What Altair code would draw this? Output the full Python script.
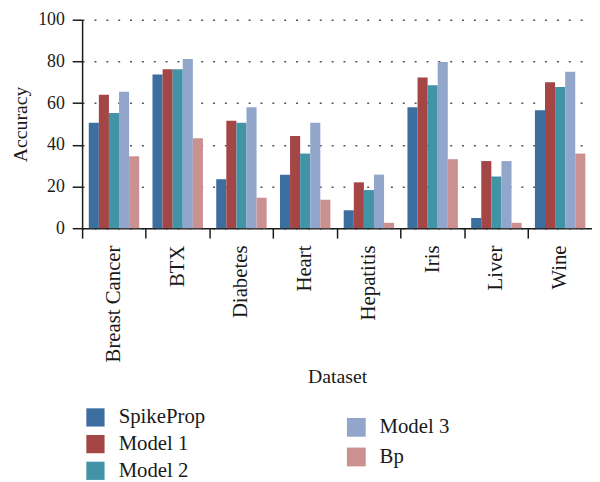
import altair as alt
import pandas as pd

datasets = ["Breast Cancer", "BTX", "Diabetes", "Heart", "Hepatitis", "Iris", "Liver", "Wine"]
series = ["SpikeProp", "Model 1", "Model 2", "Model 3", "Bp"]
spikeprop = [50.6, 73.7, 23.5, 25.7, 8.6, 58.0, 4.9, 56.6]
model1 = [64.0, 76.2, 51.5, 44.2, 22.0, 72.3, 32.2, 70.0]
model2 = [55.2, 76.2, 50.6, 35.8, 18.3, 68.6, 24.8, 67.7]
model3 = [65.4, 81.1, 58.0, 50.6, 25.7, 79.7, 32.2, 75.1]
bp = [34.5, 43.2, 14.6, 13.7, 2.6, 33.1, 2.6, 35.8]
colors = ["#3C6E9F", "#A34645", "#4393A7", "#92A6CB", "#CB9090"]

rows = []
for name, vals in zip(series, [spikeprop, model1, model2, model3, bp]):
    for d, v in zip(datasets, vals):
        rows.append({"Dataset": d, "Series": name, "Accuracy": v})
df = pd.DataFrame(rows)

FONT = "Liberation Serif"
INK = "#1a1a1a"

x_scale = alt.Scale(domain=datasets, paddingInner=0, paddingOuter=0)
xo_scale = alt.Scale(domain=series, paddingInner=0, paddingOuter=0.66)
y_scale = alt.Scale(domain=[0, 100])

y_axis = alt.Axis(
    values=[0, 20, 40, 60, 80, 100], grid=True, gridDash=[2, 10], gridColor="#555555",
    gridWidth=1.5, tickSize=10, tickColor=INK, tickWidth=1.5, domainColor=INK, domainWidth=1.5,
    labelFont=FONT, labelFontSize=18, labelColor=INK, labelPadding=8,
    titleFont=FONT, titleFontSize=20, titleFontWeight="normal", titleColor=INK, titlePadding=7,
)

label_axis = alt.Axis(
    orient="bottom", ticks=False, domain=False, labelAngle=-90, labelAlign="right",
    labelBaseline="middle", labelFont=FONT, labelFontSize=21, labelColor=INK, labelPadding=17,
    titleFont=FONT, titleFontSize=20, titleFontWeight="normal", titleColor=INK, titlePadding=5,
)
tick_axis = alt.Axis(
    orient="bottom", labels=False, title=None, ticks=True, bandPosition=0, tickSize=10,
    tickColor=INK, tickWidth=1.5, domain=True, domainColor=INK, domainWidth=1.5, grid=False,
)

legA = alt.Legend(
    title=None, orient="none", legendX=3, legendY=392, symbolType="square", symbolSize=340,
    symbolStrokeWidth=0, labelFont=FONT, labelFontSize=21, labelColor=INK, labelOffset=13,
    rowPadding=5,
)
legB = alt.Legend(
    title=None, orient="none", legendX=267, legendY=402, symbolType="square", symbolSize=361,
    symbolStrokeWidth=0, labelFont=FONT, labelFontSize=21, labelColor=INK, labelOffset=13,
    rowPadding=8,
)

base = alt.Chart(df)

layerA = base.transform_filter(
    alt.FieldOneOfPredicate(field="Series", oneOf=series[:3])
).mark_bar().encode(
    x=alt.X("Dataset:N", scale=x_scale, sort=datasets, axis=label_axis, title="Dataset"),
    xOffset=alt.XOffset("Series:N", scale=xo_scale),
    y=alt.Y("Accuracy:Q", scale=y_scale, axis=y_axis, title="Accuracy"),
    color=alt.Color("Series:N", scale=alt.Scale(domain=series[:3], range=colors[:3]), legend=legA),
)

layerB = base.transform_filter(
    alt.FieldOneOfPredicate(field="Series", oneOf=series[3:])
).mark_bar().encode(
    x=alt.X("Dataset:N", scale=x_scale, sort=datasets, axis=tick_axis),
    xOffset=alt.XOffset("Series:N", scale=xo_scale),
    y=alt.Y("Accuracy:Q", scale=y_scale, axis=y_axis, title="Accuracy"),
    color=alt.Color("Series:N", scale=alt.Scale(domain=series[3:], range=colors[3:]), legend=legB),
)

chart = alt.layer(layerA, layerB).resolve_scale(
    color="independent"
).resolve_axis(
    x="independent"
).resolve_legend(
    color="independent"
).properties(
    width=516, height=211,
    autosize=alt.AutoSizeParams(type="none"),
    padding={"left": 75, "top": 9, "right": 0, "bottom": 256},
).configure(
    background="white", font=FONT
).configure_view(
    stroke=None
).configure_axis(
    labelFont=FONT, titleFont=FONT
).configure_legend(
    labelFont=FONT
)

chart.save("out.html", embed_options={"renderer": "svg", "actions": False})
